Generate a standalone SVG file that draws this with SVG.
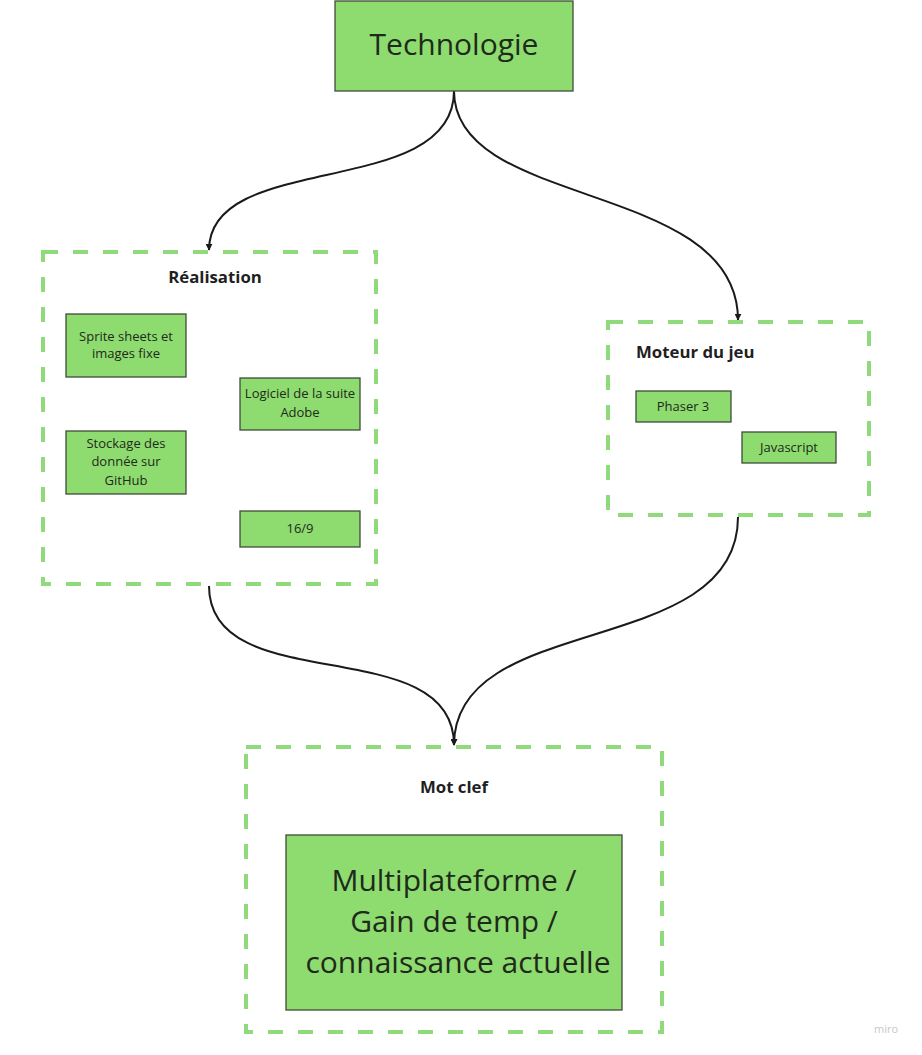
<svg xmlns="http://www.w3.org/2000/svg" width="922" height="1055" viewBox="0 0 922 1055">
  <style>
    .box { fill: #8edb70; stroke: #3f4d38; stroke-width: 1.3; }
    .frame { fill: none; stroke: #8fda7a; stroke-width: 4; stroke-dasharray: 15 15; }
    .t { font-family: "Open Sans", "Noto Sans", sans-serif; fill: #1e2a1a; text-anchor: middle; }
    .sm { font-size: 13px; }
    .title { font-family: "Open Sans", "Noto Sans", sans-serif; font-weight: bold; font-size: 16.8px; fill: #1f1f1f; }
    .edge { fill: none; stroke: #1a1a1a; stroke-width: 2; marker-end: url(#arrow); }
  </style>
  <defs>
    <marker id="arrow" viewBox="0 0 10 10" refX="9" refY="5" markerWidth="7" markerHeight="7" markerUnits="userSpaceOnUse" orient="auto">
      <path d="M0,0 L10,5 L0,10 z" fill="#1a1a1a"/>
    </marker>
  </defs>
  <rect width="922" height="1055" fill="#ffffff"/>

  <g id="connectors">
    <path class="edge" d="M454,91 C454,200 209,150 209,250"/>
    <path class="edge" d="M454,91 C454,210 738,180 738,320"/>
    <path class="edge" d="M209,586 C209,700 454,630 454,745"/>
    <path class="edge" d="M738,517 C738,660 454,610 454,745"/>
  </g>

  <g id="technologie">
    <rect class="box" x="335" y="1" width="238" height="90"/>
    <text class="t" x="454" y="55" font-size="30">Technologie</text>
  </g>

  <g id="realisation">
    <rect class="frame" x="43" y="252" width="333" height="332"/>
    <text class="title" x="215" y="283" text-anchor="middle">Réalisation</text>
    <g id="sprites">
      <rect class="box" x="66" y="314" width="120" height="63"/>
      <text class="t sm" x="126" y="341">Sprite sheets et</text>
      <text class="t sm" x="126" y="358">images fixe</text>
    </g>
    <g id="adobe">
      <rect class="box" x="240" y="378" width="120" height="52"/>
      <text class="t sm" x="300" y="398">Logiciel de la suite</text>
      <text class="t sm" x="300" y="417">Adobe</text>
    </g>
    <g id="github">
      <rect class="box" x="66" y="431" width="120" height="63"/>
      <text class="t sm" x="126" y="448">Stockage des</text>
      <text class="t sm" x="126" y="466">donnée sur</text>
      <text class="t sm" x="126" y="485">GitHub</text>
    </g>
    <g id="ratio">
      <rect class="box" x="240" y="511" width="120" height="36"/>
      <text class="t sm" x="300" y="533">16/9</text>
    </g>
  </g>

  <g id="moteur">
    <rect class="frame" x="608" y="322" width="261" height="193"/>
    <text class="title" x="636" y="358">Moteur du jeu</text>
    <g id="phaser">
      <rect class="box" x="636" y="391" width="95" height="31"/>
      <text class="t sm" x="683" y="411">Phaser 3</text>
    </g>
    <g id="javascript">
      <rect class="box" x="742" y="432" width="94" height="31"/>
      <text class="t sm" x="789" y="452">Javascript</text>
    </g>
  </g>

  <g id="motclef">
    <rect class="frame" x="246" y="747" width="416" height="285"/>
    <text class="title" x="454" y="793" text-anchor="middle">Mot clef</text>
    <g id="keywords">
      <rect class="box" x="286" y="835" width="336" height="175"/>
      <text class="t" x="454" y="891" font-size="30">Multiplateforme /</text>
      <text class="t" x="454" y="932" font-size="30">Gain de temp /</text>
      <text class="t" x="458" y="973" font-size="30">connaissance actuelle</text>
    </g>
  </g>

  <text x="886" y="1033" font-family="Open Sans, sans-serif" font-size="11" fill="#c8c8c8" text-anchor="middle">miro</text>
</svg>
